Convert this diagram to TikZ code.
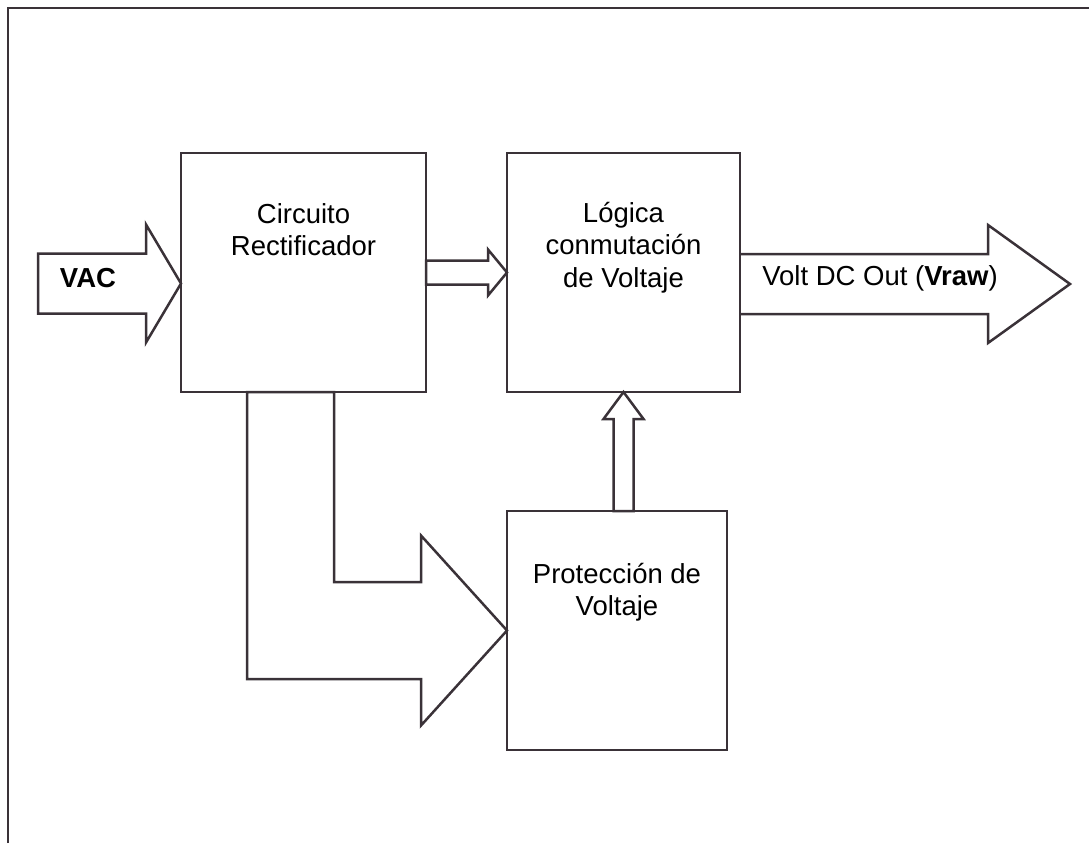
\documentclass[tikz,border=0pt]{standalone}
\usepackage{fontspec}
\setmainfont{Liberation Sans}
\usetikzlibrary{positioning,calc}
\definecolor{LineGray}{RGB}{58,50,56}
\tikzset{
  bloque/.style={draw=LineGray,line width=2.5pt,minimum height=239pt,
    inner sep=0pt,outer sep=0pt},
  texto/.style={align=center,inner sep=0pt,
    font=\fontsize{27.5}{32.5}\selectfont},
  flecha/.style={draw=LineGray,line width=2.5pt,line join=miter},
  marco/.style={draw=LineGray,line width=2.5pt}
}

\begin{document}
\begin{tikzpicture}[x=1pt,y=-1pt]
  \useasboundingbox (0,0) rectangle (1089,843);
  \draw[marco] (8,843) -- (8,8) -- (1089,8);

  % bloques
  \node[bloque,minimum width=245pt] (rect) at (303.5,272.5) {};
  \node[bloque,minimum width=233pt,right=81pt of rect] (logic) {};
  \node[bloque,minimum width=220pt,below=119pt of logic.south west,
    anchor=north west] (prot) {};
  \node[texto,below=50pt of rect.north] (rectlbl) {Circuito\\Rectificador};
  \node[texto,below=49pt of logic.north] (logiclbl) {Lógica\\conmutación\\de Voltaje};
  \node[texto,below=52pt of prot.north] (protlbl) {Protección de\\Voltaje};

  % flechas
  \draw[flecha] ([yshift=-11pt]rect.west) -- ++(-35,-59) -- ++(0,29)
    -- ++(-108,0) -- ++(0,60) -- ++(108,0) -- ++(0,29) -- cycle;
  \node[texto] (vac) at (88,278) {\bfseries VAC};
  \draw[flecha] (logic.west) -- ++(-19,-23) -- ++(0,11) -- ++(-62,0)
    -- ++(0,24) -- ++(62,0) -- ++(0,11) -- cycle;
  \draw[flecha] ($(logic.east)+(0,-18.5)$) -- ++(248,0) -- ++(0,-29)
    -- ++(82,59) -- ++(-82,59) -- ++(0,-29) -- ++(-248,0);
  \node[texto] (out) at (880,278) {Volt DC Out (\textbf{Vraw})};
  \draw[flecha] (logic.south) -- ++(-20,27) -- ++(10,0) -- ++(0,92)
    -- ++(20,0) -- ++(0,-92) -- ++(10,0) -- cycle;
  \draw[flecha] (prot.west) -- ++(-86,-95) -- ++(0,46.5) -- ++(-87,0)
    -- ++(0,-190) -- ++(-87,0) -- ++(0,287) -- ++(174,0) -- ++(0,46.5)
    -- cycle;
\end{tikzpicture}
\end{document}
